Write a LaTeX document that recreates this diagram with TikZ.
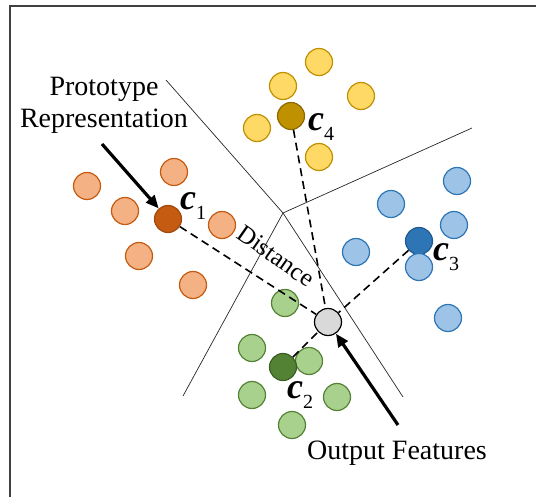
\documentclass[tikz,border=0pt]{standalone}
\usepackage{fontspec}
\setmainfont{Liberation Serif}
\usetikzlibrary{arrows.meta}

% cluster colours
\definecolor{orfill}{HTML}{F4B183}
\definecolor{ordraw}{HTML}{C55A11}
\definecolor{orcore}{HTML}{C55A11}
\definecolor{orcoredraw}{HTML}{9E4A10}
\definecolor{yefill}{HTML}{FFD966}
\definecolor{yedraw}{HTML}{BF9000}
\definecolor{yecore}{HTML}{BF9000}
\definecolor{yecoredraw}{HTML}{8C6A00}
\definecolor{blfill}{HTML}{9DC3E6}
\definecolor{bldraw}{HTML}{2E75B6}
\definecolor{blcore}{HTML}{2E75B6}
\definecolor{blcoredraw}{HTML}{1F5A91}
\definecolor{grfill}{HTML}{A9D18E}
\definecolor{grdraw}{HTML}{548235}
\definecolor{grcore}{HTML}{548235}
\definecolor{grcoredraw}{HTML}{3B5E25}
\definecolor{featfill}{HTML}{D9D9D9}
\definecolor{framegray}{HTML}{404040}

% prototype label: bold italic c with a subscript index
\newcommand{\protolab}[1]{{\fontsize{36}{36}\selectfont\bfseries\itshape c}\raisebox{-10pt}{\fontsize{20}{20}\selectfont #1}}

\tikzset{
  dot/.style={circle, minimum size=27pt, inner sep=0pt, line width=1.2pt, draw},
  ordot/.style={dot, fill=orfill, draw=ordraw},
  yedot/.style={dot, fill=yefill, draw=yedraw},
  bldot/.style={dot, fill=blfill, draw=bldraw},
  grdot/.style={dot, fill=grfill, draw=grdraw},
  orproto/.style={dot, fill=orcore, draw=orcoredraw},
  yeproto/.style={dot, fill=yecore, draw=yecoredraw},
  blproto/.style={dot, fill=blcore, draw=blcoredraw},
  grproto/.style={dot, fill=grcore, draw=grcoredraw},
  featdot/.style={dot, fill=featfill, draw=black},
  boundary/.style={line width=0.7pt, draw=black!85},
  distline/.style={dash pattern=on 8pt off 5pt, line width=1.6pt},
  bigarrow/.style={line width=3.2pt, -{Triangle[length=13pt,width=11pt]}},
  clabel/.style={inner sep=0pt, anchor=base west},
  bigtext/.style={inner sep=0pt, font=\fontsize{28}{32}\selectfont},
}

\begin{document}
\begin{tikzpicture}[x=1pt, y=-1pt]
\useasboundingbox (0,0) rectangle (536,497);
\clip (0,0) rectangle (536,497);

% outer frame
\draw[line width=2pt, framegray] (10,6) rectangle (560,520);

% region boundaries
\coordinate (J) at (283,213);
\coordinate (va) at (166,80);
\coordinate (vb) at (472,128);
\coordinate (vc) at (183,396);
\coordinate (vd) at (403,397);
\draw[boundary] (va) -- (J) -- (vd);
\draw[boundary] (J) -- (vb);
\draw[boundary] (J) -- (vc);

% orange cluster
\node[ordot] (o1) at (87,186) {};
\node[ordot] (o2) at (174,172) {};
\node[ordot] (o3) at (125,211) {};
\node[ordot] (o4) at (222,225) {};
\node[ordot] (o5) at (139,256) {};
\node[ordot] (o6) at (193,285) {};
\node[orproto] (c1) at (168,219) {};

% yellow cluster
\node[yedot] (y1) at (319,62) {};
\node[yedot] (y2) at (283,86) {};
\node[yedot] (y3) at (361,96) {};
\node[yedot] (y4) at (257,128) {};
\node[yedot] (y5) at (319,157) {};
\node[yeproto] (c4) at (291,116) {};

% blue cluster
\node[bldot] (b1) at (457,181) {};
\node[bldot] (b2) at (391,204) {};
\node[bldot] (b3) at (454,225) {};
\node[bldot] (b4) at (356,252) {};
\node[blproto] (c3) at (419,241) {};
\node[bldot] (b5) at (419,267) {};
\node[bldot] (b6) at (448,318) {};

% green cluster
\node[grdot] (g1) at (285,303) {};
\node[grdot] (g2) at (252,348) {};
\node[grdot] (g3) at (309,361) {};
\node[grdot] (g4) at (252,395) {};
\node[grdot] (g5) at (337,397) {};
\node[grdot] (g6) at (292,425) {};
\node[grproto] (c2) at (283,367) {};

% output feature
\node[featdot] (f) at (328,322) {};

% distances to the prototypes
\draw[distline] (c1) -- (f);
\draw[distline] (c4) -- (f);
\draw[distline] (c3) -- (f);
\draw[distline] (c2) -- (f);

% prototype labels
\node[clabel] (l1) at (180,210) {\protolab{1}};
\node[clabel] (l4) at (308,131) {\protolab{4}};
\node[clabel] (l3) at (433,261) {\protolab{3}};
\node[clabel] (l2) at (287,398) {\protolab{2}};

% texts
\node[bigtext, align=center, anchor=north] (proto) at (104,77) {Prototype\\Representation};
\node[bigtext, anchor=base west] (outtxt) at (307,459) {Output Features};
\node[inner sep=0pt, rotate=-35, font=\fontsize{25}{30}\selectfont] (dist) at (276,256) {Distance};

% pointers
\coordinate (pa) at (102,144);
\coordinate (oa) at (398,425);
\draw[bigarrow] (pa) -- (c1);
\draw[bigarrow] (oa) -- (f);
\end{tikzpicture}
\end{document}
